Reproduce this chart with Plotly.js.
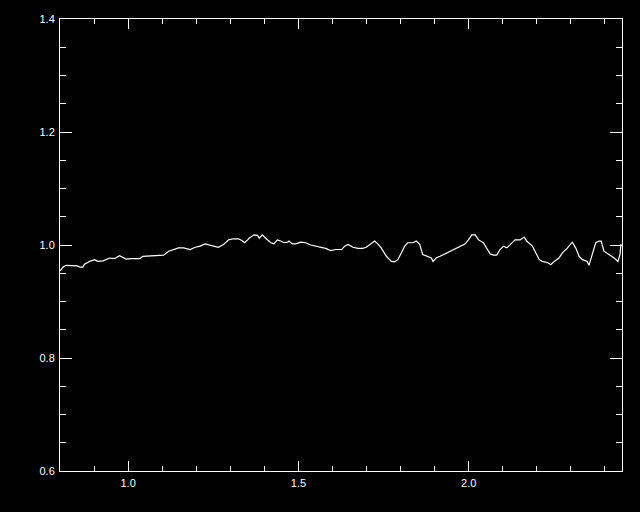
<!DOCTYPE html>
<html>
<head>
<meta charset="utf-8">
<script src="https://cdn.plot.ly/plotly-3.0.1.min.js"></script>
<style>html,body{margin:0;padding:0;background:#000;}#chart{width:640px;height:512px;}</style>
</head>
<body>
<div id="chart"></div>
<script>
const xValues = [0.800,0.809,0.818,0.838,0.850,0.859,0.867,0.872,0.887,0.902,0.911,0.926,0.936,0.946,0.960,0.975,0.985,0.994,1.008,1.035,1.043,1.073,1.104,1.119,1.133,1.148,1.163,1.182,1.197,1.211,1.226,1.241,1.251,1.265,1.280,1.295,1.309,1.324,1.334,1.342,1.351,1.355,1.370,1.380,1.385,1.394,1.404,1.419,1.428,1.438,1.448,1.458,1.468,1.472,1.482,1.492,1.507,1.521,1.536,1.551,1.565,1.580,1.595,1.609,1.627,1.636,1.646,1.660,1.675,1.689,1.699,1.714,1.724,1.733,1.743,1.758,1.773,1.782,1.792,1.802,1.812,1.821,1.836,1.846,1.856,1.865,1.880,1.890,1.895,1.906,1.916,1.926,1.936,1.946,1.955,1.965,1.975,1.990,1.999,2.009,2.019,2.029,2.043,2.053,2.063,2.073,2.082,2.092,2.102,2.112,2.126,2.136,2.151,2.163,2.170,2.187,2.197,2.207,2.216,2.231,2.241,2.251,2.265,2.275,2.290,2.304,2.314,2.324,2.334,2.348,2.353,2.363,2.373,2.383,2.389,2.397,2.412,2.427,2.438,2.444,2.447];
const yValues = [0.954,0.961,0.964,0.964,0.963,0.961,0.961,0.966,0.971,0.974,0.971,0.972,0.974,0.977,0.976,0.981,0.978,0.975,0.976,0.976,0.980,0.981,0.982,0.989,0.992,0.995,0.995,0.992,0.996,0.998,1.002,1.000,0.998,0.996,1.001,1.009,1.011,1.011,1.008,1.004,1.009,1.012,1.018,1.017,1.012,1.018,1.012,1.004,1.002,1.009,1.007,1.004,1.005,1.007,1.002,1.002,1.005,1.004,1.000,0.998,0.995,0.994,0.990,0.992,0.992,0.998,1.001,0.996,0.994,0.994,0.996,1.002,1.007,1.002,0.995,0.980,0.971,0.970,0.974,0.986,0.998,1.004,1.004,1.007,1.001,0.983,0.980,0.977,0.971,0.978,0.980,0.983,0.986,0.989,0.992,0.995,0.998,1.002,1.009,1.018,1.018,1.009,1.004,0.995,0.984,0.982,0.982,0.992,0.998,0.995,1.004,1.009,1.009,1.014,1.007,0.998,0.986,0.974,0.971,0.969,0.965,0.971,0.977,0.986,0.995,1.005,0.995,0.980,0.974,0.971,0.964,0.983,1.004,1.007,1.007,0.989,0.983,0.977,0.971,0.983,1.002];
const xTickVals = [1.0, 1.5, 2.0];
const xTickText = ['1.0', '1.5', '2.0'];
const yTickVals = [0.6, 0.8, 1.0, 1.2, 1.4];
const yTickText = ['0.6', '0.8', '1.0', '1.2', '1.4'];

const axisCommon = {
  showline: true, linecolor: '#fff', linewidth: 1, mirror: 'allticks',
  ticks: 'inside', tickcolor: '#fff', tickwidth: 1,
  showgrid: false, zeroline: false,
  tickfont: {family: 'Liberation Sans, Arial, sans-serif', size: 11, color: '#fff'},
  tickmode: 'array'
};

Plotly.newPlot('chart', [{
  x: xValues, y: yValues, type: 'scatter', mode: 'lines',
  line: {color: '#fff', width: 1.2}, hoverinfo: 'skip'
}], {
  width: 640, height: 512,
  paper_bgcolor: '#000', plot_bgcolor: '#000',
  margin: {l: 60, r: 18, t: 19, b: 41},
  showlegend: false,
  xaxis: Object.assign({}, axisCommon, {
    range: [0.8, 2.45], tickvals: xTickVals, ticktext: xTickText, ticklen: 10,
    ticklabelstandoff: 2,
    minor: {ticks: 'inside', dtick: 0.1, tick0: 0.8, ticklen: 5, tickcolor: '#fff', tickwidth: 1, showgrid: false}
  }),
  yaxis: Object.assign({}, axisCommon, {
    range: [0.6, 1.4], tickvals: yTickVals, ticktext: yTickText, ticklen: 12,
    ticklabelstandoff: 2,
    minor: {ticks: 'inside', dtick: 0.05, tick0: 0.6, ticklen: 6, tickcolor: '#fff', tickwidth: 1, showgrid: false}
  })
}, {staticPlot: true});
</script>
</body>
</html>
